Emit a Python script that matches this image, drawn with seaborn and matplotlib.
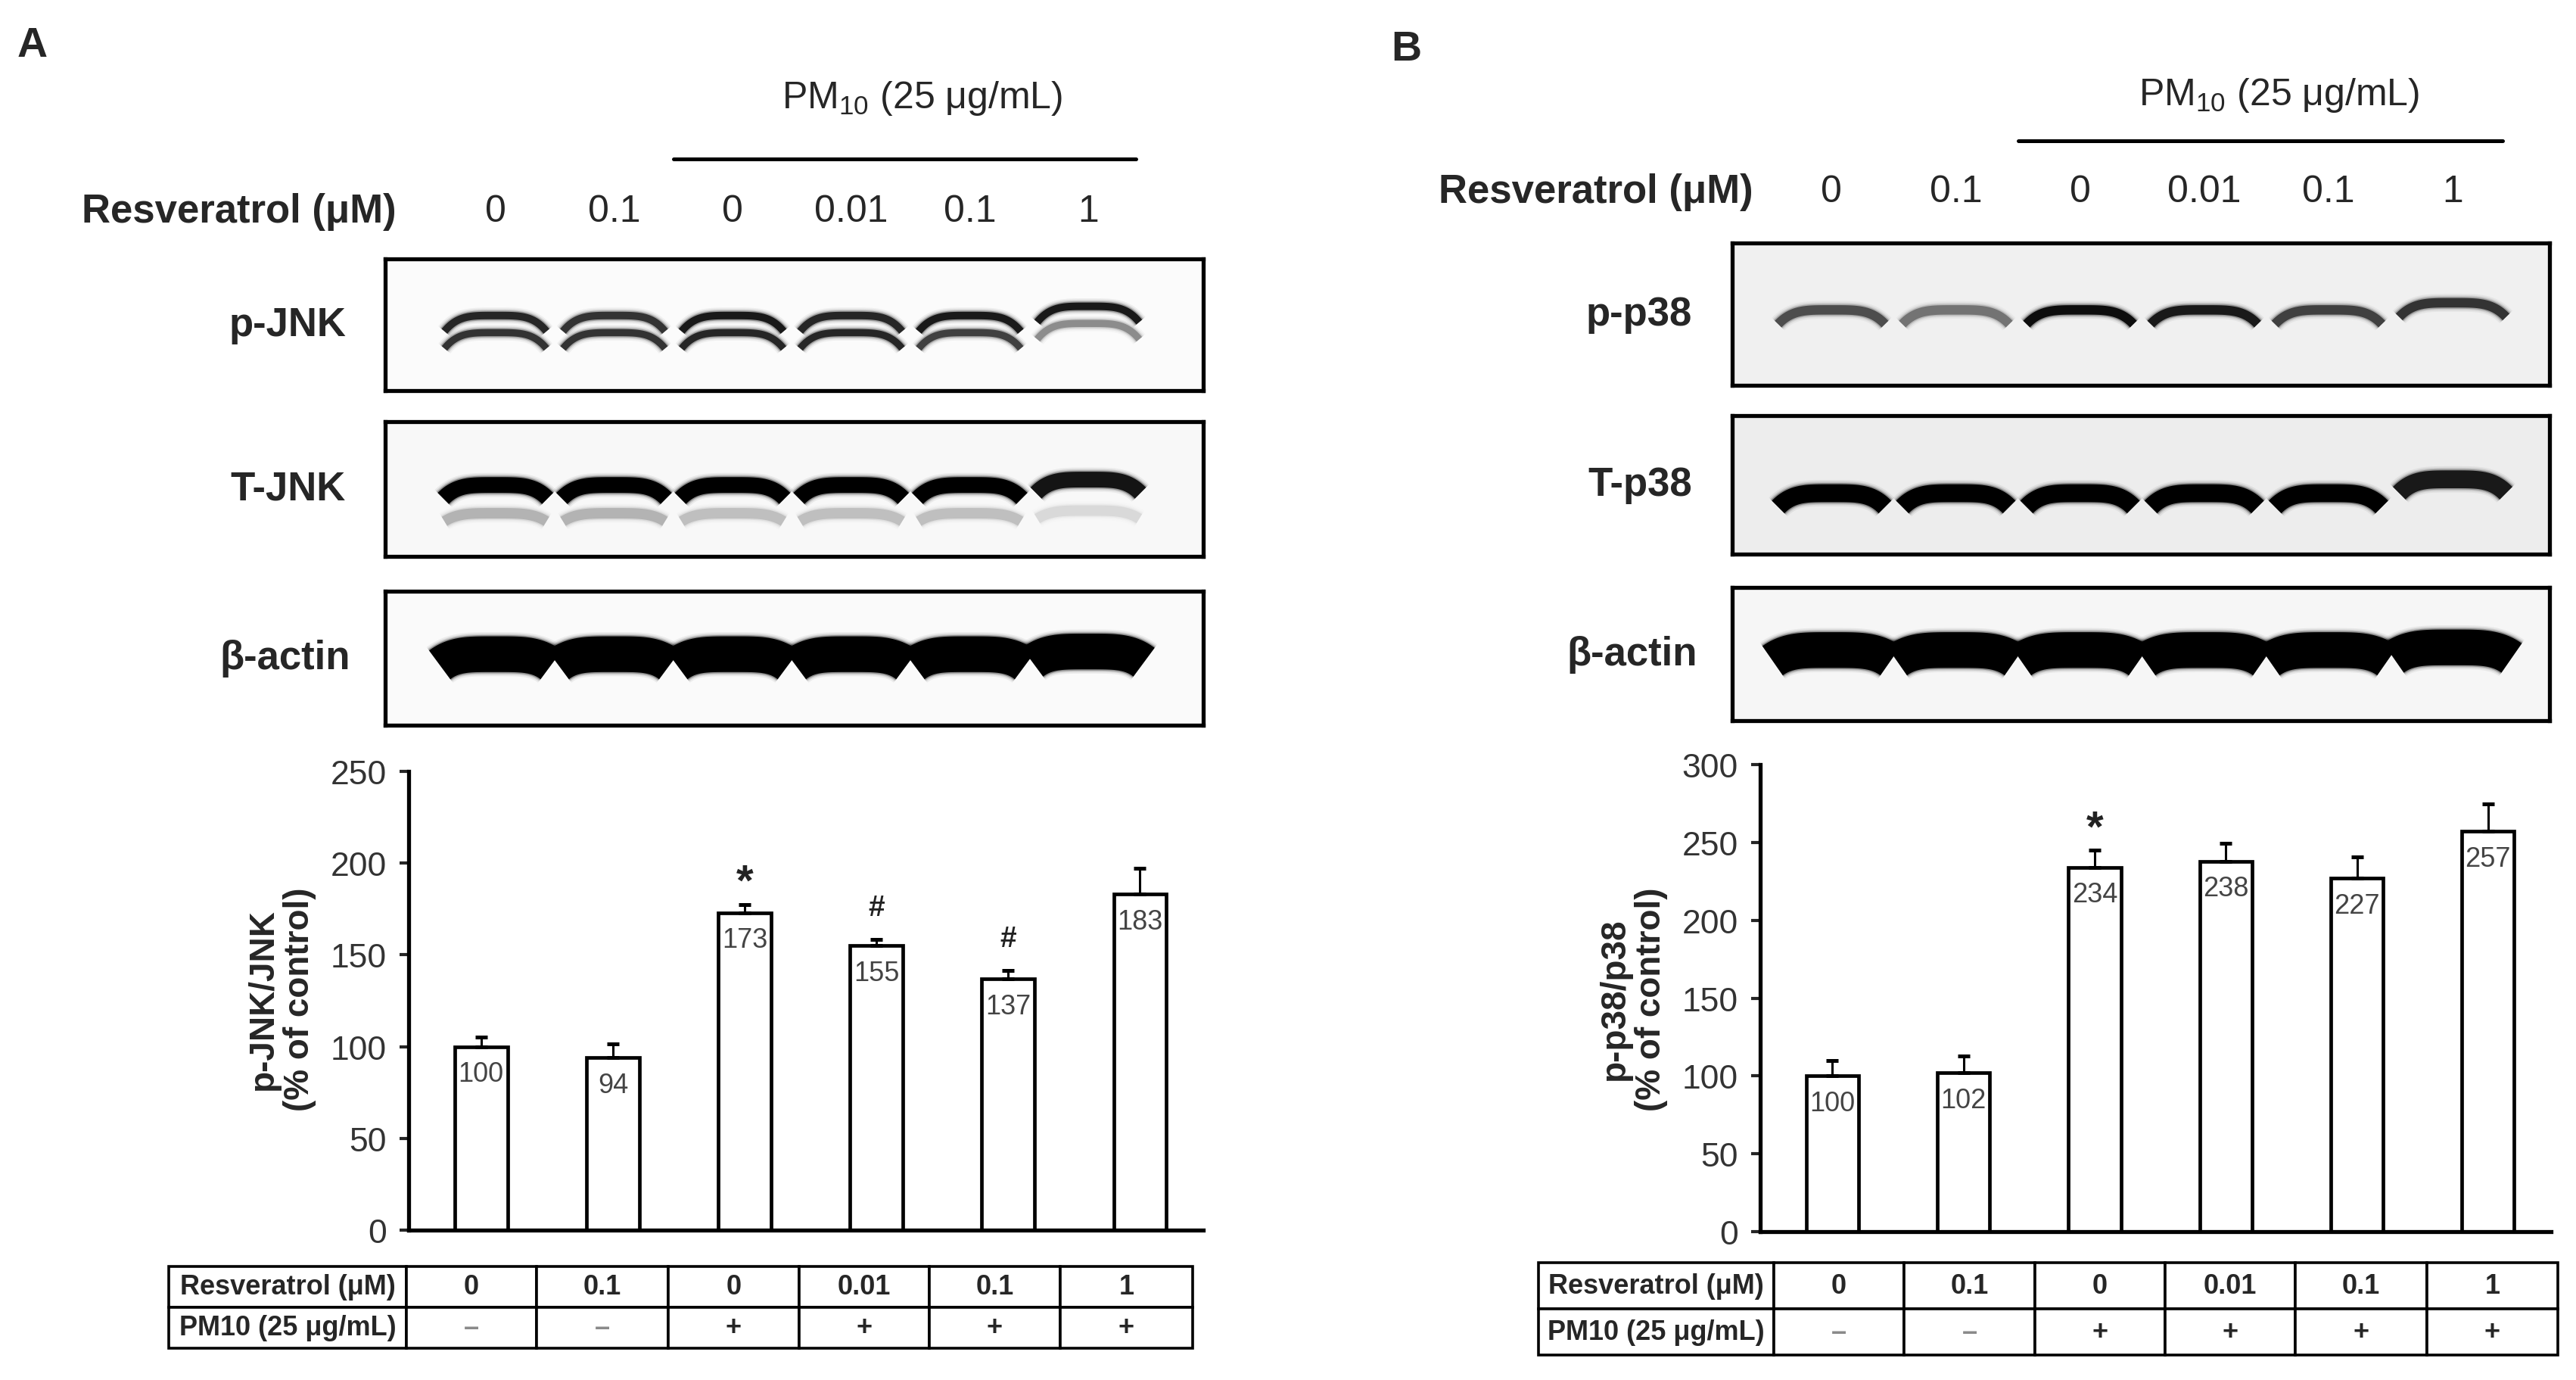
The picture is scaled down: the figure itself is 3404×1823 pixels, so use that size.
import numpy as np
import matplotlib
matplotlib.use("Agg")
import matplotlib.pyplot as plt
import matplotlib.transforms as mtransforms
import seaborn as sns

# treatments per lane
resv_doses = ["0", "0.1", "0", "0.01", "0.1", "1"]
pm10_flags = ["–", "–", "+", "+", "+", "+"]

# densitometry
jnk_vals = [100, 94, 173, 155, 137, 183]
jnk_err = [5, 7.5, 4.5, 3.5, 4.5, 14]
jnk_marks = ["", "", "*", "#", "#", ""]
p38_vals = [100, 102, 234, 238, 227, 257]
p38_err = [10, 11, 11, 11.5, 13.5, 17.5]
p38_marks = ["", "", "*", "", "", ""]

# band darkness per lane (0 = none, 1 = black)
pjnk_upper = [0.85, 0.8, 0.9, 0.85, 0.9, 0.9]
pjnk_lower = [0.8, 0.8, 0.85, 0.85, 0.75, 0.45]
tjnk_main = [1, 1, 1, 1, 1, 0.92]
tjnk_faint = [0.3, 0.3, 0.25, 0.25, 0.25, 0.15]
actin_a = [1, 1, 1, 1, 1, 1]
pp38_band = [0.7, 0.55, 0.95, 0.9, 0.75, 0.8]
tp38_band = [1, 1, 1, 1, 1, 0.9]
actin_b = [1, 1, 1, 1, 1, 1]

sns.set_style("ticks")
plt.rcParams['font.family'] = ['Liberation Sans', 'DejaVu Sans']
plt.rcParams['mathtext.default'] = 'regular'

W, H = 3404, 1824
fig = plt.figure(figsize=(W / 200, H / 200), dpi=200)


def rect(x0, y0, x1, y1):
    """pixel box (top-left origin) -> figure rect"""
    return [x0 / W, 1 - y1 / H, (x1 - x0) / W, (y1 - y0) / H]


def draw_blot(r, xlim, label, label_x, bands, face):
    ax = fig.add_axes(r)
    ax.set_xlim(*xlim)
    ax.set_ylim(1, 0)
    ax.set_facecolor(face)
    ax.set_xticks([])
    ax.set_yticks([])
    for s in ax.spines.values():
        s.set_visible(True)
        s.set_linewidth(1.9)
        s.set_color('black')
    t = np.linspace(-1, 1, 80)
    for strength, y, y_last, thick, droop, width in bands:
        for i, d in enumerate(strength):
            yc = y_last if i == len(strength) - 1 else y
            xs = i + t * width / 2
            ys = yc + droop * np.abs(t) ** 4
            g = 1 - d
            # soft halo then the core of the band
            for lw, a in [(thick + 4, 0.06), (thick + 2.5, 0.12),
                          (thick + 1.2, 0.3), (thick, 1.0)]:
                ax.plot(xs, ys, color=(g, g, g), lw=lw, alpha=a,
                        solid_capstyle='butt')
    fig.text(label_x / W, r[1] + r[3] / 2, label, ha='right', va='center',
             fontsize=19, fontweight='bold')
    return ax


def draw_header(ax, y_pm, y_line, y_dose, resv_right):
    tr = mtransforms.blended_transform_factory(ax.transData, fig.transFigure)
    ax.text(3.6, 1 - y_pm / H, r"PM$_{10}$ (25 μg/mL)", transform=tr,
            ha='center', va='center', fontsize=18)
    ax.plot([1.5, 5.4], [1 - y_line / H] * 2, transform=tr, clip_on=False,
            color='black', lw=1.8)
    for i, d in enumerate(resv_doses):
        ax.text(i, 1 - y_dose / H, d, transform=tr, ha='center',
                va='center', fontsize=18)
    fig.text(resv_right / W, 1 - y_dose / H, "Resveratrol (μM)", ha='right',
             va='center', fontsize=19, fontweight='bold')


def draw_bars(r, vals, err, marks, ymax, step, ylabel, ylab_x):
    ax = fig.add_axes(r)
    idx = np.arange(len(vals))
    sns.barplot(x=idx, y=vals, color='white', edgecolor='black',
                linewidth=1.7, width=0.4, saturation=1, ax=ax)
    ax.errorbar(idx, vals, yerr=[np.zeros(len(err)), err], fmt='none',
                ecolor='black', elinewidth=1.1, capsize=3, capthick=1.8,
                zorder=3)
    for i, (v, e, m) in enumerate(zip(vals, err, marks)):
        ax.annotate(str(v), (i, v), xytext=(0, -13),
                    textcoords='offset points', ha='center', va='center',
                    fontsize=13, color='#444444')
        if m == '*':
            ax.annotate(m, (i, v + e), xytext=(0, 10),
                        textcoords='offset points', ha='center',
                        va='center', fontsize=21, fontweight='bold',
                        color='#222222')
        elif m:
            ax.annotate(m, (i, v + e), xytext=(0, 15),
                        textcoords='offset points', ha='center',
                        va='center', fontsize=14, fontweight='bold',
                        color='#222222')
    ax.set_xlim(-0.55, 5.48)
    ax.set_ylim(0, ymax)
    ax.set_yticks(np.arange(0, ymax + 1, step))
    ax.set_xticks([])
    ax.set_xlabel("")
    ax.set_ylabel("")
    ax.tick_params(axis='y', length=4.5, width=1.5, labelsize=16,
                   labelcolor='#333333', pad=6)
    sns.despine(ax=ax)
    for s in ['left', 'bottom']:
        ax.spines[s].set_linewidth(1.9)
        ax.spines[s].set_color('black')
    fig.text(ylab_x / W, 1 - 1320 / H, ylabel, rotation=90, ha='center',
             va='center', fontsize=16.5, fontweight='bold', linespacing=1.1)
    return ax


def draw_table(r, col_px):
    ax = fig.add_axes(r)
    ax.axis('off')
    widths = np.array(col_px) / sum(col_px)
    rows = [["Resveratrol (μM)"] + resv_doses,
            ["PM10 (25 μg/mL)"] + pm10_flags]
    tb = ax.table(cellText=rows, colWidths=widths, bbox=[0, 0, 1, 1],
                  cellLoc='center')
    tb.auto_set_font_size(False)
    for (rr, c), cell in tb.get_celld().items():
        cell.set_linewidth(1.3)
        cell.set_edgecolor('black')
        txt = cell.get_text()
        txt.set_fontsize(13)
        txt.set_fontweight('bold')
        if c == 0:
            cell._loc = 'left'
            cell.PAD = 0.012
        if txt.get_text() == '–':
            txt.set_color('#8a8a8a')
    return ax


# ---------------- panel A ----------------
fig.text(43 / W, 1 - 61 / H, "A", ha='center', va='center', fontsize=20,
         fontweight='bold')
xl_a = (-0.93, 5.97)
ax_pj = draw_blot(rect(509, 343, 1590, 517), xl_a, "p-JNK", 457,
                  [(pjnk_upper, 0.43, 0.36, 3.6, 0.12, 0.86),
                   (pjnk_lower, 0.56, 0.49, 3.4, 0.12, 0.86)], '#fbfbfb')
draw_blot(rect(509, 558, 1590, 736), xl_a, "T-JNK", 457,
          [(tjnk_main, 0.47, 0.43, 7.5, 0.10, 0.88),
           (tjnk_faint, 0.68, 0.66, 5, 0.06, 0.86)], '#f8f8f8')
draw_blot(rect(509, 782, 1590, 959), xl_a, "β-actin", 463,
          [(actin_a, 0.47, 0.45, 17, 0.08, 0.94)], '#fafafa')
draw_header(ax_pj, 130, 211, 280, 524)
draw_bars(rect(540, 1020, 1590, 1626), jnk_vals, jnk_err, jnk_marks, 250, 50,
          "p-JNK/JNK\n(% of control)", 372)
draw_table(rect(223, 1674, 1576, 1782), [314, 172, 174, 173, 172, 173, 175])

# ---------------- panel B ----------------
fig.text(1858 / W, 1 - 66 / H, "B", ha='center', va='center', fontsize=20,
         fontweight='bold')
xl_b = (-0.80, 5.78)
ax_pp = draw_blot(rect(2289, 322, 3369, 510), xl_b, "p-p38", 2236,
                  [(pp38_band, 0.47, 0.42, 4.5, 0.10, 0.86)], '#f0f0f0')
draw_blot(rect(2289, 550, 3369, 733), xl_b, "T-p38", 2236,
          [(tp38_band, 0.56, 0.46, 8.5, 0.10, 0.86)], '#ededed')
draw_blot(rect(2289, 777, 3369, 953), xl_b, "β-actin", 2243,
          [(actin_b, 0.47, 0.45, 17, 0.08, 0.95)], '#f6f6f6')
draw_header(ax_pp, 126, 187, 254, 2317)
draw_bars(rect(2326, 1011, 3371, 1628), p38_vals, p38_err, p38_marks, 300, 50,
          "p-p38/p38\n(% of control)", 2158)
draw_table(rect(2033, 1669, 3380, 1791), [311, 172, 173, 172, 172, 174, 173])

fig.savefig("out.png", dpi=200, facecolor='white')
